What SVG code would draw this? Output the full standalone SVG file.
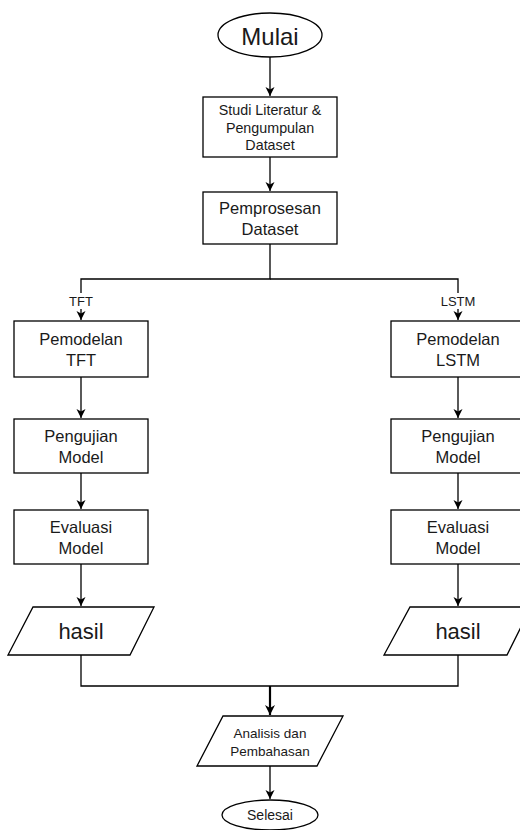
<svg xmlns="http://www.w3.org/2000/svg" width="520" height="830" viewBox="0 0 520 830">
<style>
.s{fill:#fff;stroke:#000;stroke-width:1.3}
.c{fill:none;stroke:#000;stroke-width:1.3}
text{font-family:"Liberation Sans",Arial,Helvetica,sans-serif;fill:#1a1a1a;text-anchor:middle;dominant-baseline:central}
.t{font-size:16.5px}
.lb{font-size:13px}
</style>
<defs>
<marker id="a" markerWidth="10" markerHeight="10" refX="9" refY="4.5" orient="auto" markerUnits="userSpaceOnUse">
<path d="M0,0 L9,4.5 L0,9 L2.5,4.5 z" fill="#000"/>
</marker>
<marker id="b" markerWidth="12" markerHeight="12" refX="10" refY="5" orient="auto" markerUnits="userSpaceOnUse">
<path d="M0,0 L10,5 L0,10 L3,5 z" fill="#000"/>
</marker>
</defs>
<g id="connectors">
<path class="c" d="M270,57 V96" marker-end="url(#a)"/>
<path class="c" d="M270,157 V191" marker-end="url(#a)"/>
<path class="c" d="M270,244 V279 H81 V320" marker-end="url(#a)"/>
<path class="c" d="M270,279 H458 V320" marker-end="url(#a)"/>
<rect x="67" y="293" width="28" height="16" fill="#fff"/>
<text class="lb" x="81" y="301">TFT</text>
<rect x="439" y="293" width="38" height="16" fill="#fff"/>
<text class="lb" x="458" y="301">LSTM</text>
<path class="c" d="M81,377 V418" marker-end="url(#a)"/>
<path class="c" d="M81,473 V509" marker-end="url(#a)"/>
<path class="c" d="M81,564 V606" marker-end="url(#a)"/>
<path class="c" d="M458,377 V418" marker-end="url(#a)"/>
<path class="c" d="M458,473 V509" marker-end="url(#a)"/>
<path class="c" d="M458,564 V606" marker-end="url(#a)"/>
<path class="c" d="M81,655 V686 H458 V655"/>
<path class="c" d="M270,686 V715" style="stroke-width:2.2" marker-end="url(#b)"/>
<path class="c" d="M270,766 V799" marker-end="url(#a)"/>
</g>
<g id="mulai">
<ellipse class="s" cx="270" cy="35" rx="52" ry="22"/>
<text x="270" y="36" style="font-size:24px">Mulai</text>
</g>
<g id="studi">
<rect class="s" x="203" y="97" width="134" height="60"/>
<text x="270" y="110" style="font-size:14.3px">Studi Literatur &amp;</text>
<text x="270" y="127.5" style="font-size:14.3px">Pengumpulan</text>
<text x="270" y="145" style="font-size:14.3px">Dataset</text>
</g>
<g id="pemprosesan">
<rect class="s" x="203" y="192" width="134" height="52"/>
<text class="t" x="270" y="208">Pemprosesan</text>
<text class="t" x="270" y="228.5">Dataset</text>
</g>
<g id="pemodelan-tft">
<rect class="s" x="14" y="321" width="134" height="56"/>
<text class="t" x="81" y="339">Pemodelan</text>
<text class="t" x="81" y="359.5">TFT</text>
</g>
<g id="pengujian-tft">
<rect class="s" x="14" y="419" width="134" height="54"/>
<text class="t" x="81" y="436">Pengujian</text>
<text class="t" x="81" y="456.5">Model</text>
</g>
<g id="evaluasi-tft">
<rect class="s" x="14" y="510" width="134" height="54"/>
<text class="t" x="81" y="527">Evaluasi</text>
<text class="t" x="81" y="547.5">Model</text>
</g>
<g id="hasil-tft">
<polygon class="s" points="33,607 154,607 130,655 8,655"/>
<text x="81" y="631" style="font-size:22px">hasil</text>
</g>
<g id="pemodelan-lstm">
<rect class="s" x="391" y="321" width="134" height="56"/>
<text class="t" x="458" y="339">Pemodelan</text>
<text class="t" x="458" y="359.5">LSTM</text>
</g>
<g id="pengujian-lstm">
<rect class="s" x="391" y="419" width="134" height="54"/>
<text class="t" x="458" y="436">Pengujian</text>
<text class="t" x="458" y="456.5">Model</text>
</g>
<g id="evaluasi-lstm">
<rect class="s" x="391" y="510" width="134" height="54"/>
<text class="t" x="458" y="527">Evaluasi</text>
<text class="t" x="458" y="547.5">Model</text>
</g>
<g id="hasil-lstm">
<polygon class="s" points="410,607 531,607 507,655 384,655"/>
<text x="458" y="631" style="font-size:22px">hasil</text>
</g>
<g id="analisis">
<polygon class="s" points="223,716 343,716 317,766 197,766"/>
<text x="270" y="733" style="font-size:13.5px">Analisis dan</text>
<text x="270" y="751" style="font-size:13.5px">Pembahasan</text>
</g>
<g id="selesai">
<ellipse class="s" cx="270" cy="815" rx="48" ry="15"/>
<text x="270" y="815" style="font-size:14px">Selesai</text>
</g>
</svg>
